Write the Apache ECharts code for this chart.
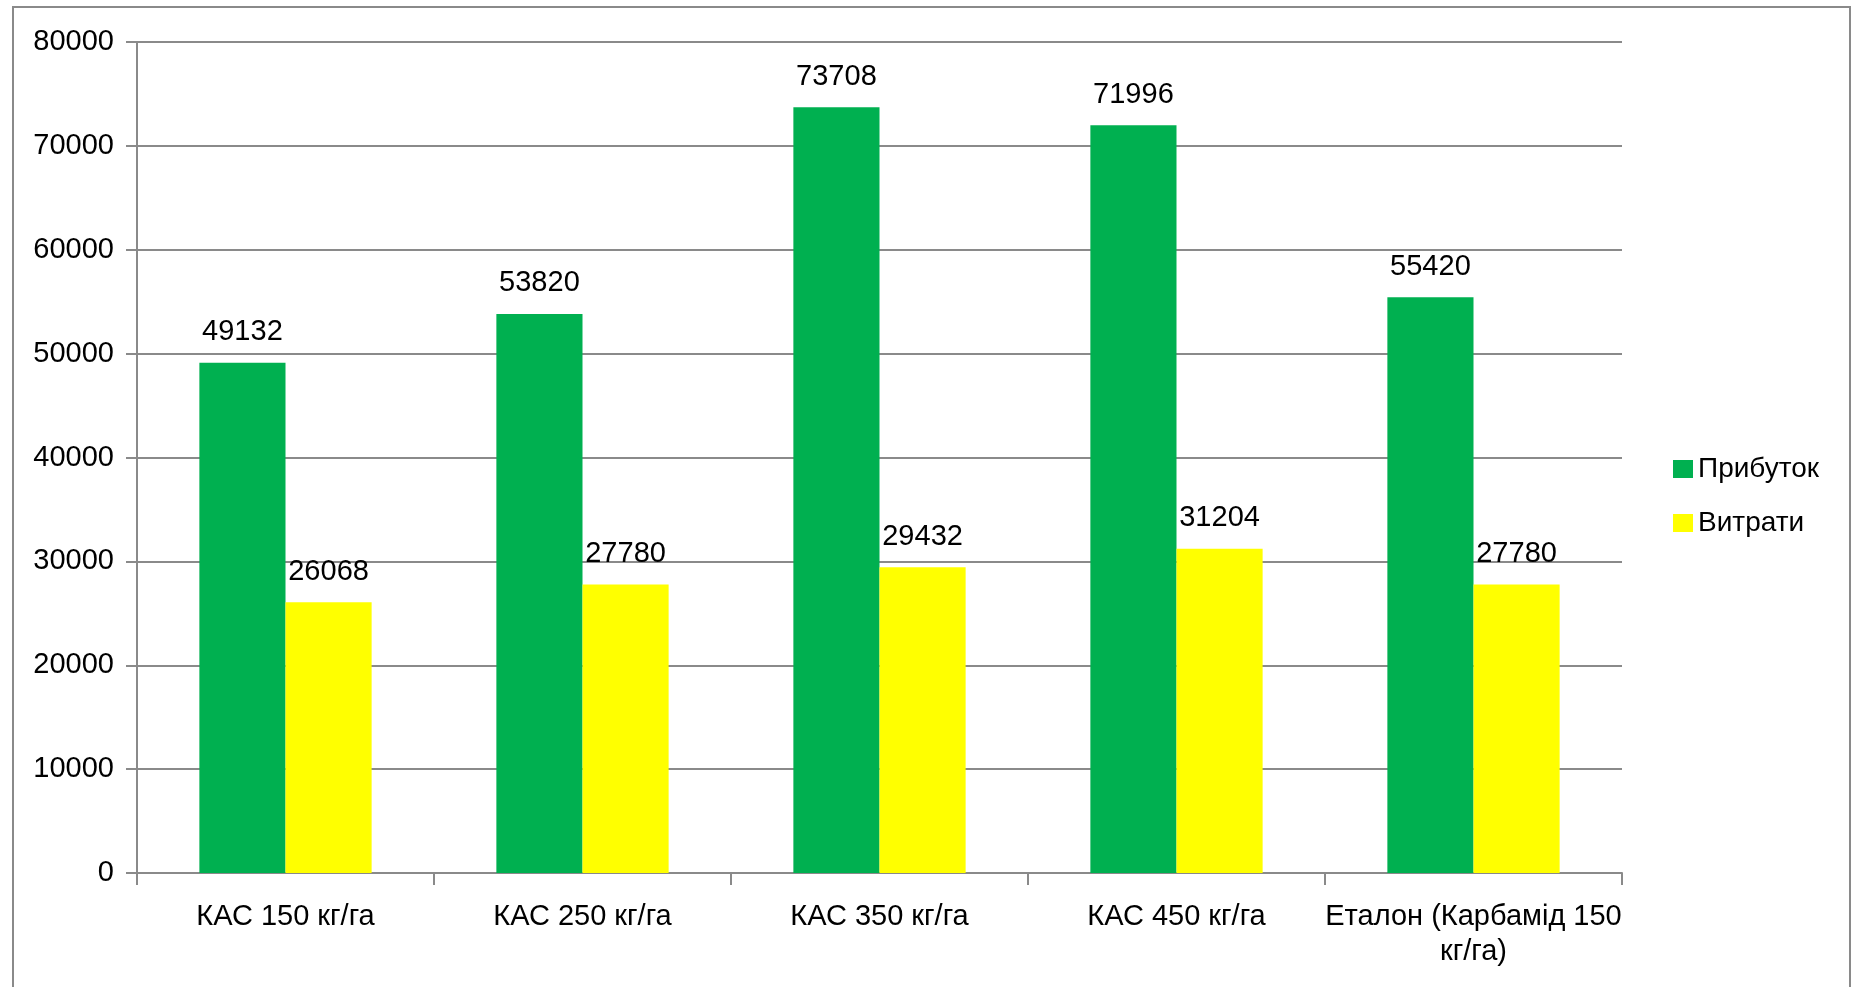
<!DOCTYPE html>
<html>
<head>
<meta charset="utf-8">
<script src="https://cdn.jsdelivr.net/npm/echarts@6/dist/echarts.min.js"></script>
<style>
    html, body { margin: 0; padding: 0; background: #fff; }
    #chart { width: 1856px; height: 987px; }
</style>
</head>
<body>
<div id="chart"></div>
<script>
// категорії та значення
var categories = ['КАС 150 кг/га', 'КАС 250 кг/га', 'КАС 350 кг/га', 'КАС 450 кг/га', 'Еталон (Карбамід 150 кг/га)'];
var profit = [49132, 53820, 73708, 71996, 55420];   // Прибуток
var costs = [26068, 27780, 29432, 31204, 27780];    // Витрати
var yTicks = { min: 0, max: 80000, step: 10000 };

var FONT = 'Liberation Sans';
var FS = 29;
var myChart = echarts.init(document.getElementById('chart'));

var option = {
    backgroundColor: '#fff',
    animation: false,
    textStyle: { fontFamily: FONT },
    graphic: [{
        type: 'rect',
        shape: { x: 13, y: 7, width: 1837, height: 1000 },
        style: { fill: 'none', stroke: '#8a8a8a', lineWidth: 2 },
        silent: true
    }],
    grid: { left: 137, right: 234, top: 42, bottom: 114, outerBoundsMode: 'none' },
    legend: {
        orient: 'vertical',
        left: 1668,
        top: 450,
        itemWidth: 20,
        itemHeight: 18,
        itemGap: 26,
        icon: 'rect',
        textStyle: { fontFamily: FONT, fontSize: 28, color: '#000' },
        data: ['Прибуток', 'Витрати']
    },
    xAxis: {
        type: 'category',
        data: categories,
        axisLine: { lineStyle: { color: '#8a8a8a', width: 2 } },
        axisTick: { show: true, length: 12, lineStyle: { color: '#8a8a8a', width: 2 } },
        axisLabel: {
            color: '#000', fontFamily: FONT, fontSize: FS, margin: 26,
            lineHeight: 35, interval: 0,
            // довгий підпис переноситься перед "кг/га)"
            formatter: function (v) { return v.length > 20 ? v.replace(' кг/га)', '\nкг/га)') : v; }
        }
    },
    yAxis: {
        type: 'value',
        min: yTicks.min,
        max: yTicks.max,
        interval: yTicks.step,
        axisLine: { show: true, lineStyle: { color: '#8a8a8a', width: 2 } },
        axisTick: { show: true, length: 11, lineStyle: { color: '#8a8a8a', width: 2 } },
        splitLine: { lineStyle: { color: '#8a8a8a', width: 2 } },
        axisLabel: { color: '#000', fontFamily: FONT, fontSize: FS, margin: 23,
            formatter: function (v) { return String(v); } }
    },
    series: [
        {
            name: 'Прибуток',
            type: 'bar',
            data: profit,
            barGap: '0%',
            barCategoryGap: '42%',
            itemStyle: { color: '#00b050' },
            label: { show: true, position: 'top', distance: 16, color: '#000', fontFamily: FONT, fontSize: FS }
        },
        {
            name: 'Витрати',
            type: 'bar',
            data: costs,
            barGap: '0%',
            barCategoryGap: '42%',
            itemStyle: { color: '#ffff00' },
            label: { show: true, position: 'top', distance: 16, color: '#000', fontFamily: FONT, fontSize: FS }
        }
    ]
};

myChart.setOption(option);
</script>
</body>
</html>
